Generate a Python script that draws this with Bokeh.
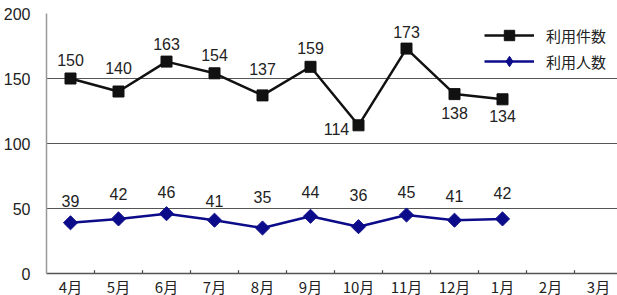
import math
from bokeh.plotting import figure
from bokeh.models import ColumnDataSource, FactorRange, FixedTicker, Legend, LegendItem
from bokeh.core.properties import value
from bokeh.embed import file_html
from bokeh.resources import INLINE

months = ["4月", "5月", "6月", "7月", "8月", "9月", "10月", "11月", "12月", "1月", "2月", "3月"]
kensu = [150, 140, 163, 154, 137, 159, 114, 173, 138, 134]
ninzu = [39, 42, 46, 41, 35, 44, 36, 45, 41, 42]
y_ticks = [0, 50, 100, 150, 200]

# label offsets (screen px)
kensu_dx = [0, 0, 0, 0, 0, 0, -22, 0, 0, 0]
kensu_dy = [-19, -24, -18, -18, -26, -19, 4, -17, 19, 17]
ninzu_dy = [-22, -25, -22, -19, -31, -24, -32, -23, -24, -26]

NUM_FONT = "Liberation Sans"
JP_FONT = "Noto Sans CJK JP"

p = figure(frame_width=576, frame_height=260, x_range=FactorRange(*months), y_range=(0, 200),
           output_backend="svg", toolbar_location=None,
           min_border_left=43, min_border_right=0, min_border_top=13, min_border_bottom=22)
p.outline_line_color = None
p.background_fill_color = "white"

# grid
p.xgrid.grid_line_color = None
p.ygrid.ticker = FixedTicker(ticks=y_ticks[1:])
p.ygrid.grid_line_color = "#555555"
p.ygrid.grid_line_width = 1.2

# y axis
p.yaxis.ticker = FixedTicker(ticks=y_ticks)
p.yaxis.major_tick_line_color = None
p.yaxis.minor_tick_line_color = None
p.yaxis.axis_line_color = "#999999"
p.yaxis.axis_line_width = 1.5
p.yaxis.major_label_text_font = NUM_FONT
p.yaxis.major_label_text_font_size = "16px"
p.yaxis.major_label_text_color = "#222222"
p.yaxis.major_label_standoff = 10

# x axis
p.xaxis.major_tick_line_color = None
p.xaxis.major_tick_out = 0
p.xaxis.axis_line_color = "#555555"
p.xaxis.axis_line_width = 1.5
p.xaxis.major_label_text_font = JP_FONT
p.xaxis.major_label_text_font_size = "15px"
p.xaxis.major_label_text_color = "#222222"
p.xaxis.major_label_standoff = 2

# boundary tick marks (inside)
bx = list(range(1, len(months)))
p.segment(x0=bx, y0=[0] * len(bx), x1=bx, y1=[2.5] * len(bx), line_color="#444444", line_width=1.2)

src1 = ColumnDataSource(dict(x=months[:len(kensu)], y=kensu, t=[str(v) for v in kensu], dx=kensu_dx, dy=kensu_dy))
src2 = ColumnDataSource(dict(x=months[:len(ninzu)], y=ninzu, t=[str(v) for v in ninzu], dy=ninzu_dy))

BLACK = "#111111"
BLUE = "#0c0c8a"

l1 = p.line("x", "y", source=src1, line_color=BLACK, line_width=2.5)
m1 = p.scatter("x", "y", source=src1, marker="square", size=11, fill_color=BLACK, line_color=BLACK)
l2 = p.line("x", "y", source=src2, line_color=BLUE, line_width=2.5)
m2 = p.scatter("x", "y", source=src2, marker="square", size=10, angle=math.pi / 4,
               fill_color=BLUE, line_color=BLUE)
# hidden proxy used only for the legend swatch (diamond shape)
m2_leg = p.scatter("x", "y", source=src2, marker="diamond", size=15, fill_color=BLUE,
                   line_color=BLUE, visible=False)

p.text("x", "y", text="t", source=src1, x_offset="dx", y_offset="dy",
       text_font=value(NUM_FONT), text_font_size="16px", text_color="#222222",
       text_align="center", text_baseline="middle")
p.text("x", "y", text="t", source=src2, y_offset="dy",
       text_font=value(NUM_FONT), text_font_size="16px", text_color="#222222",
       text_align="center", text_baseline="middle")

legend = Legend(items=[LegendItem(label="利用件数", renderers=[l1, m1]),
                       LegendItem(label="利用人数", renderers=[l2, m2_leg])],
                location=(438, 199), orientation="vertical",
                glyph_width=50, glyph_height=26, label_height=26, spacing=0, padding=4,
                label_standoff=12, label_text_font=JP_FONT, label_text_font_size="15px",
                label_text_color="#222222", border_line_color=None, background_fill_alpha=0,
                inactive_fill_alpha=0)
p.add_layout(legend, "center")

open("out.html", "w").write(file_html(p, INLINE))
